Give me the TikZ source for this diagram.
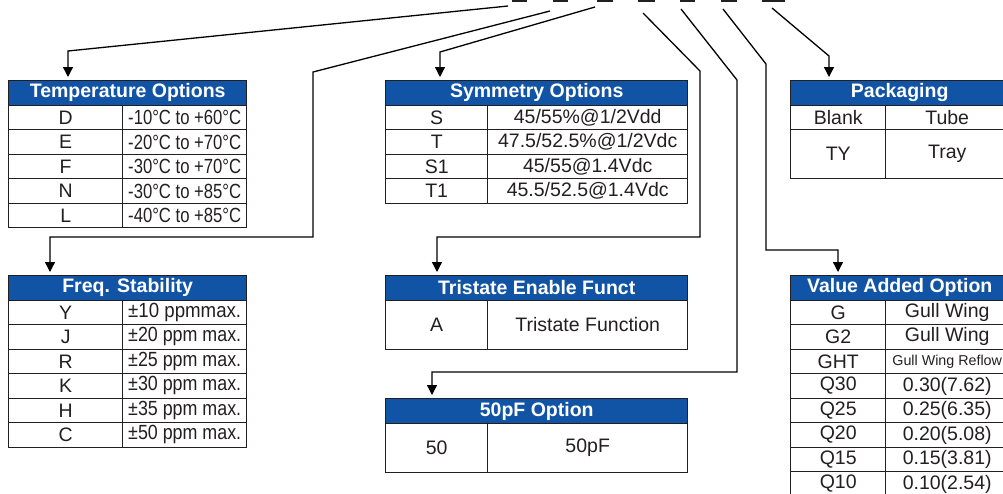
\documentclass[tikz,border=0pt]{standalone}
\usepackage{fontspec}
\setmainfont{Liberation Sans}
\usepackage{graphicx}
\usetikzlibrary{
    arrows.meta,
    positioning
}
\definecolor{hdblue}{RGB}{17,84,166}
\definecolor{ink}{RGB}{35,31,32}
\newcommand{\squeeze}[1]{\resizebox{113pt}{\height}{\fontsize{20.5}{22}\selectfont #1}}
\tikzset{
    hd/.style={draw=ink, line width=1.4pt, fill=hdblue, text=white, inner sep=0pt,
        font=\fontsize{19.5}{21}\selectfont\bfseries, minimum height=24.5pt, anchor=north west},
    cell/.style={draw=ink, line width=1.4pt, text=ink, inner sep=0pt,
        font=\fontsize{19.5}{21}\selectfont, minimum height=24.5pt, anchor=north west},
    link/.style={draw=black, line width=1.3pt, line join=miter},
    tip/.style={-{Triangle[width=10pt,length=10pt]}, shorten >=3pt},
    blank/.style={draw=ink, line width=2pt}
}

\begin{document}
\begin{tikzpicture}[x=1pt, y=-1pt]
    \useasboundingbox (0,0) rectangle (1003,493);
    % blanks of the part number
    \draw[blank] (512,1) -- (527,1) (553,1) -- (568,1) (597,1) -- (613,1) (638,1) -- (655,1)
        (680,1) -- (695,1) (721,1) -- (737,1) (762,1) -- (785,1);
    % headers
    \node[hd, minimum width=238pt] (tempHd) at (8,80) {Temperature Options};
    \node[hd, minimum width=238pt] (freqHd) at (8,275) {Freq. Stability};
    \node[hd, minimum width=302pt] (symHd) at (385,80) {Symmetry Options};
    \node[hd, minimum width=302pt] (triHd) at (385,275) {Tristate Enable Funct};
    \node[hd, minimum width=302pt] (capHd) at (385,398) {50pF Option};
    \node[hd, minimum width=218pt] (packHd) at (790,80) {Packaging};
    \node[hd, minimum width=218pt] (valHd) at (790,275) {Value Added Option};
    % rows
    \foreach \k/\v [count=\i from 0] in {D/-10°C to +60°C, E/-20°C to +70°C, F/-30°C to +70°C,
            N/-30°C to +85°C, L/-40°C to +85°C} {
        \node[cell, minimum width=114pt] (temp-k-\i) at (8,{104.5+24.5*\i}) {\k};
        \node[cell, minimum width=124pt] (temp-v-\i) at (122,{104.5+24.5*\i}) {\squeeze{\v}};
    }
    \foreach \k/\v [count=\i from 0] in {Y/±10 ppmmax., J/±20 ppm max., R/±25 ppm max.,
            K/±30 ppm max., H/±35 ppm max., C/±50 ppm max.} {
        \node[cell, minimum width=114pt] (freq-k-\i) at (8,{299.5+24.5*\i}) {\k};
        \node[cell, minimum width=124pt] (freq-v-\i) at (122,{299.5+24.5*\i}) {\squeeze{\v}};
    }
    \foreach \k/\v [count=\i from 0] in {S/{45/55\%@1/2Vdd}, T/{47.5/52.5\%@1/2Vdc},
            S1/{45/55@1.4Vdc}, T1/{45.5/52.5@1.4Vdc}} {
        \node[cell, minimum width=102pt] (sym-k-\i) at (385,{104.5+24.5*\i}) {\k};
        \node[cell, minimum width=200pt] (sym-v-\i) at (487,{104.5+24.5*\i}) {\v};
    }
    \node[cell, minimum width=102pt, minimum height=49pt] (tri-k) at (385,299.5) {A};
    \node[cell, minimum width=200pt, minimum height=49pt] (tri-v) at (487,299.5) {Tristate Function};
    \node[cell, minimum width=102pt, minimum height=49pt] (cap-k) at (385,422.5) {50};
    \node[cell, minimum width=200pt, minimum height=49pt] (cap-v) at (487,422.5) {50pF};
    \node[cell, minimum width=95pt] (pack-k-0) at (790,104.5) {Blank};
    \node[cell, minimum width=123pt] (pack-v-0) at (885,104.5) {Tube};
    \node[cell, minimum width=95pt, minimum height=49pt] (pack-k-1) at (790,129) {TY};
    \node[cell, minimum width=123pt, minimum height=49pt] (pack-v-1) at (885,129) {Tray};
    \foreach \k/\v [count=\i from 0] in {G/Gull Wing, G2/Gull Wing,
            GHT/{\fontsize{14.3}{16}\selectfont Gull Wing Reflow}, Q30/0.30(7.62), Q25/0.25(6.35),
            Q20/0.20(5.08), Q15/0.15(3.81), Q10/0.10(2.54)} {
        \node[cell, minimum width=95pt] (val-k-\i) at (790,{299.5+24.5*\i}) {\k};
        \node[cell, minimum width=123pt] (val-v-\i) at (885,{299.5+24.5*\i}) {\v};
    }
    % connectors
    \coordinate (b1) at (508,6);  \coordinate (k1) at (68,51);
    \coordinate (b2) at (550,11); \coordinate (k2) at (313,72);  \coordinate (j2) at (313,237); \coordinate (m2) at (50,237);
    \coordinate (b3) at (595,7);  \coordinate (k3) at (440,52);
    \coordinate (b4) at (643,13); \coordinate (k4) at (700,71);  \coordinate (j4) at (700,237); \coordinate (m4) at (437,237);
    \coordinate (b5) at (681,9);  \coordinate (k5) at (737,80);  \coordinate (j5) at (737,372); \coordinate (m5) at (432,372);
    \coordinate (b6) at (723,9);  \coordinate (k6) at (766,64);  \coordinate (j6) at (766,250); \coordinate (m6) at (838,250);
    \coordinate (b7) at (772,8);  \coordinate (k7) at (829,56);
    \draw[link, tip] (b1) -- (k1) -- (k1 |- tempHd.north);
    \draw[link, tip] (b2) -- (k2) -- (j2) -- (m2) -- (m2 |- freqHd.north);
    \draw[link, tip] (b3) -- (k3) -- (k3 |- symHd.north);
    \draw[link, tip] (b4) -- (k4) -- (j4) -- (m4) -- (m4 |- triHd.north);
    \draw[link, tip] (b5) -- (k5) -- (j5) -- (m5) -- (m5 |- capHd.north);
    \draw[link, tip] (b6) -- (k6) -- (j6) -- (m6) -- (m6 |- valHd.north);
    \draw[link, tip] (b7) -- (k7) -- (k7 |- packHd.north);
\end{tikzpicture}
\end{document}
